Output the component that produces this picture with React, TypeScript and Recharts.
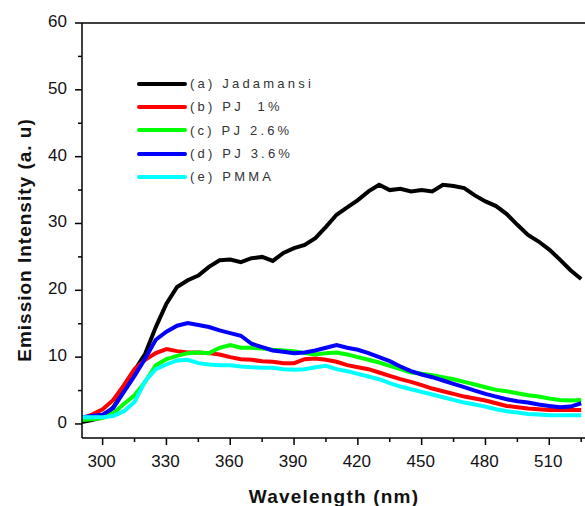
import { LineChart, Line, XAxis, YAxis, Legend, ReferenceLine } from "recharts";

const wavelengths = [
  290, 295, 300, 305, 310, 315, 320, 325, 330, 335, 340, 345, 350, 355, 360, 365,
  370, 375, 380, 385, 390, 395, 400, 405, 410, 415, 420, 425, 430, 435, 440, 445,
  450, 455, 460, 465, 470, 475, 480, 485, 490, 495, 500, 505, 510, 515, 520, 525,
];

const jadamansi = [
  0.3, 0.6, 1.0, 2.5, 5.0, 8.0, 10.5, 14.5, 18.0, 20.5, 21.5, 22.2, 23.5, 24.5, 24.6, 24.2,
  24.8, 25.0, 24.4, 25.6, 26.3, 26.8, 27.8, 29.5, 31.3, 32.4, 33.5, 34.8, 35.8, 35.0, 35.2, 34.8,
  35.0, 34.8, 35.8, 35.6, 35.3, 34.2, 33.3, 32.6, 31.4, 29.8, 28.3, 27.3, 26.1, 24.6, 23.0, 21.7,
];

const pj1 = [
  0.8, 1.4, 2.2, 3.6, 5.8, 8.2, 9.6, 10.6, 11.2, 10.9, 10.7, 10.7, 10.6, 10.4, 10.0, 9.7,
  9.6, 9.4, 9.3, 9.1, 9.1, 9.7, 9.8, 9.6, 9.3, 8.8, 8.5, 8.2, 7.7, 7.2, 6.7, 6.3,
  5.8, 5.3, 4.9, 4.5, 4.1, 3.8, 3.5, 3.1, 2.7, 2.5, 2.3, 2.2, 2.1, 2.1, 2.1, 2.1,
];

const pj26 = [
  0.6, 0.7, 0.9, 1.6, 3.0, 4.3, 6.3, 8.8, 9.7, 10.2, 10.6, 10.7, 10.6, 11.4, 11.8, 11.4,
  11.4, 11.3, 11.1, 11.0, 10.9, 10.6, 10.4, 10.6, 10.7, 10.4, 10.0, 9.6, 9.2, 8.7, 8.2, 7.7,
  7.5, 7.3, 7.0, 6.7, 6.3, 5.9, 5.5, 5.1, 4.9, 4.6, 4.3, 4.1, 3.8, 3.6, 3.5, 3.6,
];

const pj36 = [
  1.0, 1.2, 1.4, 2.4, 4.8, 7.2, 9.8, 12.6, 13.8, 14.7, 15.1, 14.8, 14.5, 14.0, 13.6, 13.2,
  12.0, 11.5, 11.0, 10.8, 10.6, 10.7, 11.0, 11.4, 11.8, 11.4, 11.1, 10.6, 10.0, 9.4, 8.6, 7.9,
  7.4, 7.0, 6.5, 6.0, 5.5, 5.0, 4.5, 4.1, 3.7, 3.4, 3.2, 2.9, 2.7, 2.5, 2.6, 3.1,
];

const pmma = [
  1.0, 1.0, 1.0, 1.2, 1.9, 3.3, 6.4, 8.2, 8.9, 9.5, 9.6, 9.1, 8.9, 8.8, 8.8, 8.6,
  8.5, 8.4, 8.4, 8.2, 8.1, 8.2, 8.5, 8.7, 8.2, 7.9, 7.5, 7.1, 6.7, 6.1, 5.6, 5.2,
  4.8, 4.4, 4.0, 3.6, 3.2, 2.9, 2.6, 2.2, 1.9, 1.7, 1.5, 1.4, 1.3, 1.3, 1.3, 1.3,
];

const series = [
  { key: "a", label: "(a) Jadamansi", color: "#000000", values: jadamansi },
  { key: "b", label: "(b) PJ  1%", color: "#ff0000", values: pj1 },
  { key: "c", label: "(c) PJ 2.6%", color: "#00ff00", values: pj26 },
  { key: "d", label: "(d) PJ 3.6%", color: "#0000ff", values: pj36 },
  { key: "e", label: "(e) PMMA", color: "#00ffff", values: pmma },
];

const xTicks = [300, 315, 330, 345, 360, 375, 390, 405, 420, 435, 450, 465, 480, 495, 510, 525];
const yTicks = [0, 5, 10, 15, 20, 25, 30, 35, 40, 45, 50, 55, 60];

const data = wavelengths.map((w, i) => {
  const row: Record<string, number> = { w };
  series.forEach((s) => (row[s.key] = s.values[i]));
  return row;
});

const FONT = "'Liberation Sans', Arial, sans-serif";

function XTick(props: any) {
  const { x, y, payload } = props;
  const major = payload.value % 30 === 0;
  return (
    <g>
      <line x1={x} y1={y} x2={x} y2={y + (major ? 7 : 4)} stroke="#000" strokeWidth={1.5} />
      {major && (
        <text x={x - 1} y={y + 29} textAnchor="middle" fontSize={17} fontFamily={FONT} fill="#111">
          {payload.value}
        </text>
      )}
    </g>
  );
}

function YTick(props: any) {
  const { x, y, payload } = props;
  const major = payload.value % 10 === 0;
  return (
    <g>
      <line x1={x - (major ? 7 : 4)} y1={y} x2={x} y2={y} stroke="#000" strokeWidth={1.5} />
      {major && (
        <text x={x - 15} y={y + 4} textAnchor="end" fontSize={17} fontFamily={FONT} fill="#111">
          {payload.value}
        </text>
      )}
    </g>
  );
}

function LegendBox() {
  return (
    <div style={{ fontFamily: FONT }}>
      {series.map((s) => (
        <div key={s.key} style={{ display: "flex", alignItems: "center", height: 23.3 }}>
          <div style={{ width: 50, height: 4, background: s.color, borderRadius: 2 }} />
          <span style={{ marginLeft: 3, fontSize: 13, letterSpacing: 3.2, color: "#333", whiteSpace: "pre" }}>
            {s.label}
          </span>
        </div>
      ))}
    </div>
  );
}

export default function App() {
  return (
    <div style={{ position: "absolute", left: 0, top: 0, width: 585, height: 506, background: "#fff" }}>
      <LineChart width={585} height={506} data={data} margin={{ top: 23, right: 0, left: 22, bottom: 8 }}>
        <XAxis
          dataKey="w"
          type="number"
          domain={[290.3, 526.8]}
          allowDataOverflow
          ticks={xTicks}
          interval={0}
          tickSize={0}
          tickMargin={0}
          tickLine={false}
          tick={<XTick />}
          height={60}
          axisLine={{ stroke: "#000", strokeWidth: 1.5 }}
          label={{
            value: "Wavelength (nm)",
            position: "insideBottom",
            offset: 0,
            content: () => (
              <text x={334} y={503} textAnchor="middle" fontSize={19} fontWeight="bold" letterSpacing={1.2} fontFamily={FONT} fill="#111">
                Wavelength (nm)
              </text>
            ),
          }}
        />
        <YAxis
          type="number"
          domain={[-2.1, 60]}
          allowDataOverflow
          ticks={yTicks}
          interval={0}
          tickSize={0}
          tickMargin={0}
          tickLine={false}
          tick={<YTick />}
          width={60}
          axisLine={{ stroke: "#000", strokeWidth: 1.5 }}
          label={{
            value: "Emission Intensity (a. u)",
            position: "insideLeft",
            content: () => (
              <text x={31} y={240} transform="rotate(-90, 31, 240)" textAnchor="middle" fontSize={19} fontWeight="bold" letterSpacing={1} fontFamily={FONT} fill="#111">
                Emission Intensity (a. u)
              </text>
            ),
          }}
        />
        <ReferenceLine y={60} stroke="#000" strokeWidth={1.5} ifOverflow="extendDomain" />
        {series.map((s) => (
          <Line
            key={s.key}
            dataKey={s.key}
            type="linear"
            stroke={s.color}
            strokeWidth={4}
            dot={false}
            isAnimationActive={false}
          />
        ))}
        <Legend
          layout="vertical"
          align="center"
          verticalAlign="middle"
          content={<LegendBox />}
          wrapperStyle={{ position: "absolute", left: 137, top: 72, width: 240, height: 120 }}
        />
      </LineChart>
    </div>
  );
}
